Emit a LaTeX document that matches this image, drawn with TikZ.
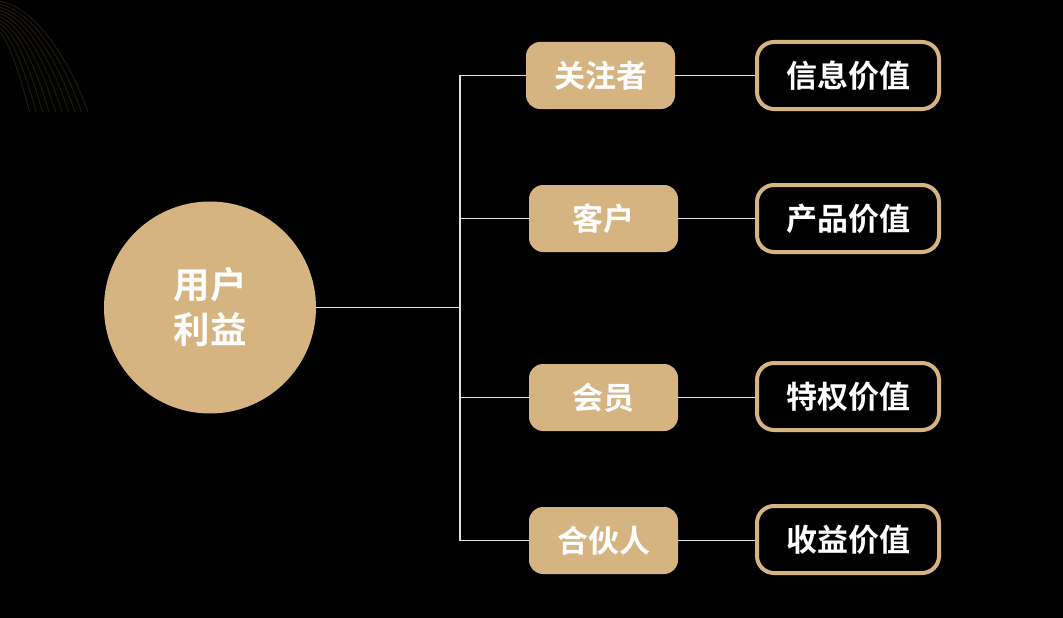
\documentclass[tikz,border=0pt]{standalone}
\usepackage{fontspec}
\newfontfamily\cjk{Noto Sans CJK SC}[BoldFont={Noto Sans CJK SC Bold}]
\definecolor{gold}{RGB}{213,180,130}
\definecolor{linegray}{RGB}{225,225,225}
\begin{document}
\begin{tikzpicture}[x=1pt,y=-1pt,
  hub/.style={circle,fill=gold,minimum size=212pt,inner sep=0pt,text=white,align=center,font=\cjk\bfseries\fontsize{36.5}{45}\selectfont},
  role/.style={rounded corners=14pt,fill=gold,minimum width=149pt,minimum height=67pt,inner sep=0pt,text=white,font=\cjk\bfseries\fontsize{31}{36}\selectfont},
  val/.style={rounded corners=17pt,draw=gold,line width=4pt,fill=black,minimum width=182pt,minimum height=67pt,inner sep=0pt,text=white,font=\cjk\bfseries\fontsize{31}{36}\selectfont},
  link/.style={draw=linegray,line width=1.3pt},
  deco/.style={draw=gold!14!black,line width=1pt}]
\fill[black] (0,0) rectangle (1063,618);
\useasboundingbox (0,0) rectangle (1063,618);
\foreach \k in {0,...,9}{
  \draw[deco] (-10,{3*\k+1}) .. controls ({30-3*\k},{-3+3*\k}) and ({70-6*\k},60) .. ({88-6.5*\k},112);
}
\node[hub] (u) at (210,307.5) {用户\\利益};
\node[role] (b1) at (600.5,75.5) {关注者};
\node[role] (b2) at (603.5,218.5) {客户};
\node[role] (b3) at (603.5,397.5) {会员};
\node[role] (b4) at (603.5,540.5) {合伙人};
\node[val] (v1) at (848,75.5) {信息价值};
\node[val] (v2) at (848,218.5) {产品价值};
\node[val] (v3) at (848,396.5) {特权价值};
\node[val] (v4) at (848,539.5) {收益价值};
\coordinate (j) at (460,307.5);
\draw[link] (u.east) -- (j);
\draw[link] (j |- b1.west) -- (j |- b4.west);
\foreach \i in {1,2,3,4}{
  \draw[link] (j |- b\i.west) -- (b\i.west);
  \draw[link] (b\i.east) -- (b\i.east -| v\i.west);
}
\end{tikzpicture}
\end{document}
